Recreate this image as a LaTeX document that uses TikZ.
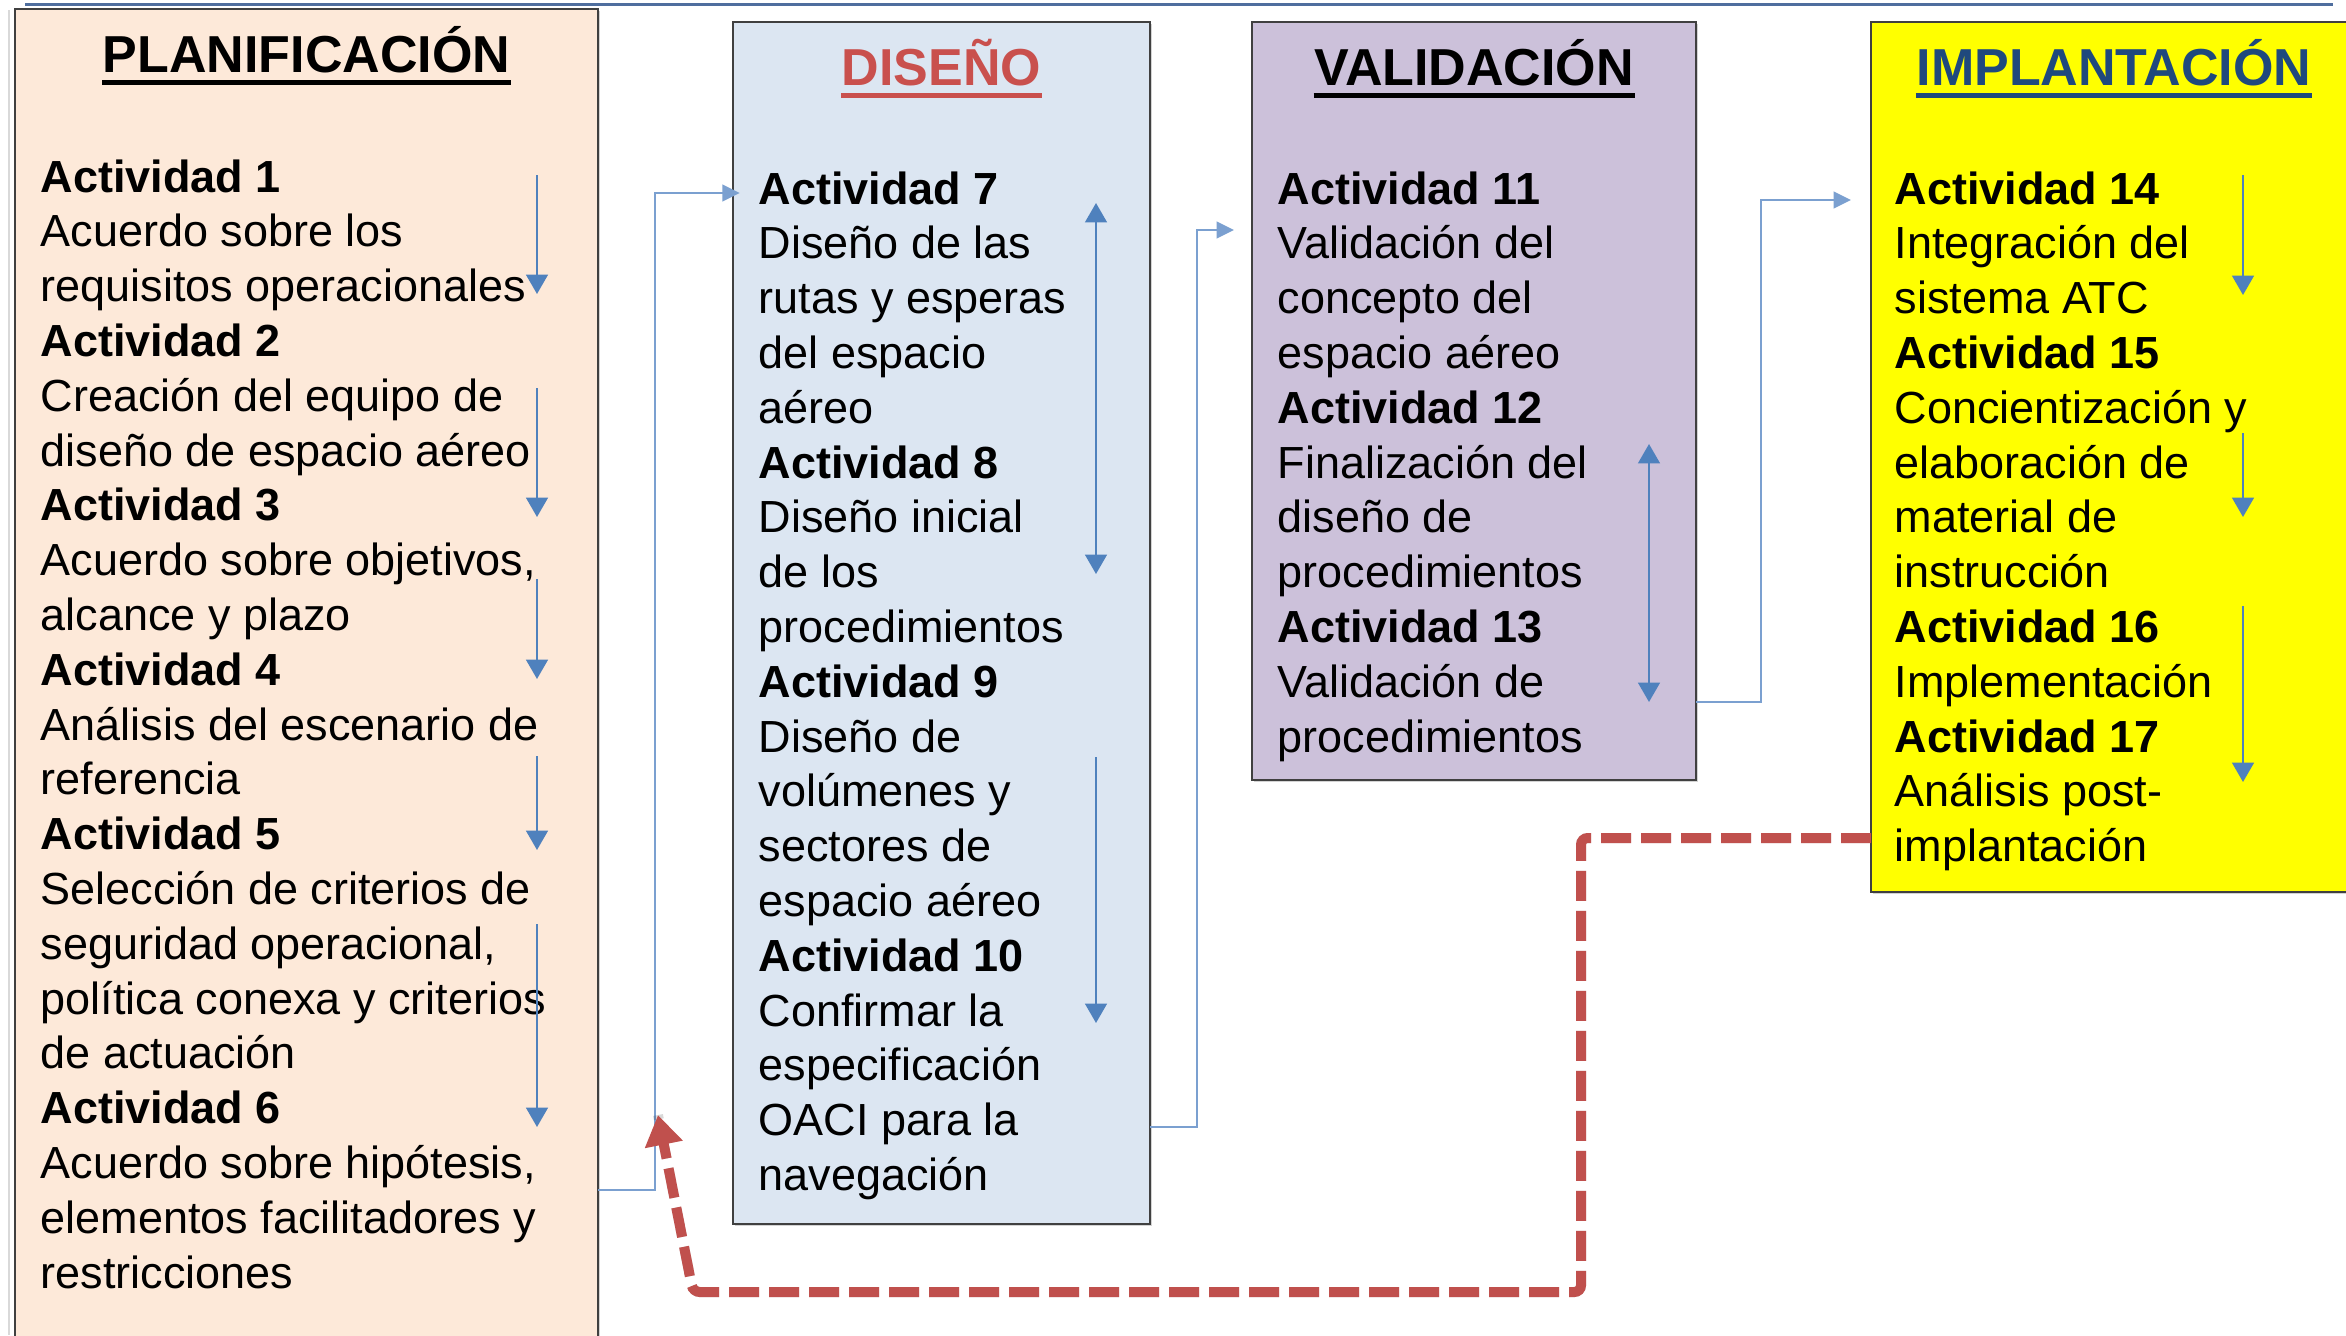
\documentclass[tikz,border=0pt]{standalone}
\usepackage{fontspec}
\setmainfont{Liberation Sans}
\usetikzlibrary{arrows.meta,shadows}
\definecolor{planfill}{HTML}{FDE9D9}
\definecolor{disfill}{HTML}{DCE6F2}
\definecolor{valfill}{HTML}{CCC1DA}
\definecolor{implfill}{HTML}{FFFF00}
\definecolor{disred}{HTML}{C9504D}
\definecolor{impblue}{HTML}{1F497D}
\definecolor{arrblue}{HTML}{4F81BD}
\definecolor{connblue}{HTML}{7BA0D0}
\definecolor{toplinecol}{HTML}{4F6E9E}
\definecolor{dashred}{HTML}{C0504D}
\begin{document}
\begin{tikzpicture}[x=0.3pt,y=-0.3pt,
  phase/.style={draw=black!75, line width=0.6pt, inner sep=0pt, outer sep=0pt, rectangle,
    drop shadow={shadow xshift=0.7pt, shadow yshift=-0.7pt, opacity=0.35}},
  phasetitle/.style={font=\fontsize{15.6}{18}\selectfont\bfseries, inner sep=0pt, anchor=base},
  actline/.style={font=\fontsize{13.5}{16}\selectfont, inner sep=0pt, anchor=base west},
  inarrow/.style={draw=arrblue, line width=0.7pt, -{Triangle[width=6.5pt,length=5.8pt]}},
  inboth/.style={draw=arrblue, line width=0.7pt, {Triangle[width=6.5pt,length=5.8pt]}-{Triangle[width=6.5pt,length=5.8pt]}},
  conn/.style={draw=connblue, line width=0.6pt, -{Triangle[width=5pt,length=5.2pt]}},
  feedback/.style={draw=dashred, line width=3pt, dash pattern=on 9pt off 3pt, rounded corners=2pt},
]
\useasboundingbox (0,0) rectangle (2346,1335);
\clip (0,0) rectangle (2346,1335);

% top rule and faint left edge
\draw[toplinecol, line width=0.9pt] (25,4) -- (2333,4);
\draw[black!15, line width=0.6pt] (9,10) -- (9,1335);

% phase boxes
\node[phase, fill=planfill, minimum width=174.9pt, minimum height=400.8pt] (plan) at (306.5,677) {};
\node[phase, fill=disfill, minimum width=125.1pt, minimum height=360.6pt] (dis) at (941.5,623) {};
\node[phase, fill=valfill, minimum width=133.2pt, minimum height=227.4pt] (val) at (1474,401) {};
\node[phase, fill=implfill, minimum width=145.8pt, minimum height=261pt] (impl) at (2114,457) {};

% titles
\node[phasetitle] (tplan) at (306.5,72) {PLANIFICACIÓN};
\draw[black, line width=1.5pt] ([yshift=-3pt]tplan.base west) -- ([yshift=-3pt]tplan.base east);
\node[phasetitle, text=disred] (tdis) at (941.5,85) {DISEÑO};
\draw[disred, line width=1.5pt] ([yshift=-3pt]tdis.base west) -- ([yshift=-3pt]tdis.base east);
\node[phasetitle] (tval) at (1474,85) {VALIDACIÓN};
\draw[black, line width=1.5pt] ([yshift=-3pt]tval.base west) -- ([yshift=-3pt]tval.base east);
\node[phasetitle, text=impblue] (timpl) at (2114,85) {IMPLANTACIÓN};
\draw[impblue, line width=1.5pt] ([yshift=-3pt]timpl.base west) -- ([yshift=-3pt]timpl.base east);

% activity texts
\foreach \t [count=\i from 0] in {{\textbf{Actividad 1}}, {Acuerdo sobre los}, {requisitos operacionales},
  {\textbf{Actividad 2}}, {Creación del equipo de}, {diseño de espacio aéreo},
  {\textbf{Actividad 3}}, {Acuerdo sobre objetivos,}, {alcance y plazo},
  {\textbf{Actividad 4}}, {Análisis del escenario de}, {referencia},
  {\textbf{Actividad 5}}, {Selección de criterios de}, {seguridad operacional,}, {política conexa y criterios}, {de actuación},
  {\textbf{Actividad 6}}, {Acuerdo sobre hipótesis,}, {elementos facilitadores y}, {restricciones}}
  \node[actline] (p\i) at (40,{192+\i*54.8}) {\t};

\foreach \t [count=\i from 0] in {{\textbf{Actividad 7}}, {Diseño de las}, {rutas y esperas}, {del espacio}, {aéreo},
  {\textbf{Actividad 8}}, {Diseño inicial}, {de los}, {procedimientos},
  {\textbf{Actividad 9}}, {Diseño de}, {volúmenes y}, {sectores de}, {espacio aéreo},
  {\textbf{Actividad 10}}, {Confirmar la}, {especificación}, {OACI para la}, {navegación}}
  \node[actline] (d\i) at (758,{204+\i*54.8}) {\t};

\foreach \t [count=\i from 0] in {{\textbf{Actividad 11}}, {Validación del}, {concepto del}, {espacio aéreo},
  {\textbf{Actividad 12}}, {Finalización del}, {diseño de}, {procedimientos},
  {\textbf{Actividad 13}}, {Validación de}, {procedimientos}}
  \node[actline] (v\i) at (1277,{204+\i*54.8}) {\t};

\foreach \t [count=\i from 0] in {{\textbf{Actividad 14}}, {Integración del}, {sistema ATC},
  {\textbf{Actividad 15}}, {Concientización y}, {elaboración de}, {material de}, {instrucción},
  {\textbf{Actividad 16}}, {Implementación},
  {\textbf{Actividad 17}}, {Análisis post-}, {implantación}}
  \node[actline] (m\i) at (1894,{204+\i*54.8}) {\t};

% inner arrows
\foreach \x/\ya/\yb [count=\k] in {537/175/294, 537/388/517, 537/579/679, 537/756/850, 537/924/1127,
  1096/757/1023, 2243/175/295, 2243/433/517, 2243/606/782} {
  \coordinate (ia\k) at (\x,\ya);
  \coordinate (ib\k) at (\x,\yb);
  \draw[inarrow] (ia\k) -- (ib\k);
}
\coordinate (da1) at (1096,203); \coordinate (db1) at (1096,574);
\draw[inboth] (da1) -- (db1);
\coordinate (da2) at (1649,444); \coordinate (db2) at (1649,702);
\draw[inboth] (da2) -- (db2);

% connectors between phases
\coordinate (k1) at (655,1190); \coordinate (k2) at (655,193);
\draw[conn, shorten >=-2pt] (k1 -| plan.east) -- (k1) -- (k2) -- (k2 -| dis.west);
\coordinate (k3) at (1197,1127); \coordinate (k4) at (1197,230);
\draw[conn, shorten >=5.4pt] (k3 -| dis.east) -- (k3) -- (k4) -- (k4 -| val.west);
\coordinate (k5) at (1761,702); \coordinate (k6) at (1761,200);
\draw[conn, shorten >=6pt] (k5 -| val.east) -- (k5) -- (k6) -- (k6 -| impl.west);

% feedback dashed arrow
\coordinate (f1) at (1581,838); \coordinate (f2) at (1581,1292);
\coordinate (f3) at (693,1292); \coordinate (f4) at (658,1115);
\begin{scope}[shift={(3,7)}]
\draw[feedback, draw=black, opacity=0.15] (f1 -| impl.west) -- (f1) -- (f2) -- (f3) -- (f4);
\end{scope}
\draw[feedback, -{Triangle[width=11pt,length=9pt]}] (f1 -| impl.west) -- (f1) -- (f2) -- (f3) -- (f4);
\end{tikzpicture}
\end{document}
